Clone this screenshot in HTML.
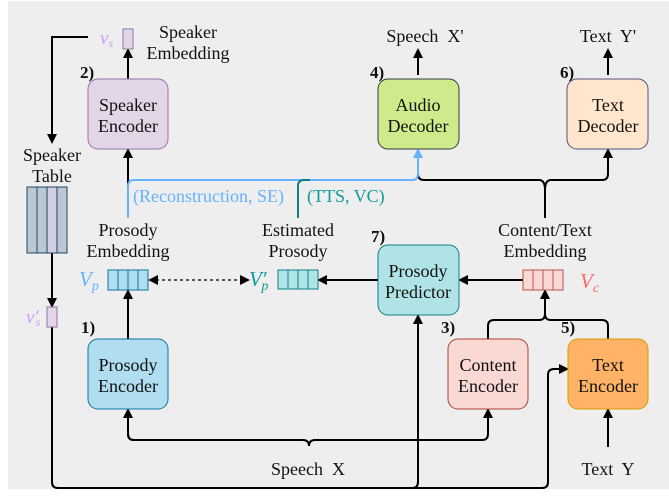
<!DOCTYPE html>
<html><head><meta charset="utf-8"><style>
html,body{margin:0;padding:0;background:#fff;}
svg{display:block;}
text{font-family:"Liberation Serif",serif;font-size:18px;fill:#111;}
.b{font-family:"Liberation Serif",serif;font-weight:bold;font-size:17px;}
.m{font-style:italic;font-size:19px;}
</style></head><body>
<svg width="669" height="499" viewBox="0 0 669 499" xmlns="http://www.w3.org/2000/svg">
<defs>
<marker id="a" markerWidth="10" markerHeight="10" refX="8" refY="5" orient="auto" markerUnits="userSpaceOnUse"><path d="M0,0 L10,5 L0,10 z" fill="#000"/></marker>
<marker id="ab" markerWidth="10" markerHeight="10" refX="8" refY="5" orient="auto" markerUnits="userSpaceOnUse"><path d="M0,0 L10,5 L0,10 z" fill="#66b2ff"/></marker>
<marker id="as" markerWidth="10" markerHeight="10" refX="8" refY="5" orient="auto-start-reverse" markerUnits="userSpaceOnUse"><path d="M0,0 L10,5 L0,10 z" fill="#000"/></marker>
</defs>
<rect x="8" y="1" width="661" height="488" fill="#eeeeee"/>
<g fill="none" stroke="#000" stroke-width="2">
<path d="M88,37 H52 V142" marker-end="url(#a)"/>
<path d="M52,253 V306" marker-end="url(#a)"/>
<path d="M52,327 V482 Q52,488 58,488 H412 Q418,488 418,482 V316" marker-end="url(#a)"/>
<path d="M412,488 H542 Q548,488 548,482 V375 Q548,369 554,369 H567" marker-end="url(#a)"/>
<path d="M128,79 V50" marker-end="url(#a)"/>
<path d="M128,218 V150" marker-end="url(#a)"/>
<path d="M418,75 V50" marker-end="url(#a)"/>
<path d="M608,75 V50" marker-end="url(#a)"/>
<path d="M128,339 V291" marker-end="url(#a)"/>
<path d="M128,434 Q128,440 134,440 H303 Q309,440 309,446 Q309,440 315,440 H482 Q488,440 488,434 V410" marker-end="url(#a)"/>
<path d="M134,440 Q128,440 128,434 V410" marker-end="url(#a)"/>
<path d="M608,447 V410" marker-end="url(#a)"/>
<path d="M488,339 V326 Q488,320 494,320 H539 Q545,320 545,314 Q545,320 551,320 H602 Q608,320 608,326 V339"/>
<path d="M545,314 V291" marker-end="url(#a)"/>
<path d="M523,280 H460" marker-end="url(#a)"/>
<path d="M378,280 H319" marker-end="url(#a)"/>
<path d="M150,280 H248" stroke-width="1.2" stroke-dasharray="3,3" marker-start="url(#as)" marker-end="url(#as)"/>
<path d="M545,218 V190 Q545,180 539,180 H424 Q418,180 418,174 V160"/>
<path d="M545,190 Q545,180 551,180 H602 Q608,180 608,174 V150" marker-end="url(#a)"/>
</g>
<path d="M128,218 V186 Q128,180 134,180 H412 Q418,180 418,174 V150" fill="none" stroke="#66b2ff" stroke-width="2" marker-end="url(#ab)"/>
<path d="M298,218 V186 Q298,180 304,180 H310" fill="none" stroke="#0e8088" stroke-width="2"/>
<rect x="88" y="79" width="80" height="70" rx="10" fill="#e1d5e7" stroke="#9673a6"/>
<rect x="378" y="79" width="81" height="70" rx="10" fill="#cdeb8b" stroke="#36393d"/>
<rect x="567" y="79" width="81" height="70" rx="10" fill="#ffe6cc" stroke="#56517e"/>
<rect x="88" y="339" width="80" height="70" rx="10" fill="#b1ddf0" stroke="#10739e"/>
<rect x="378" y="245" width="81" height="70" rx="10" fill="#b0e3e6" stroke="#0e8088"/>
<rect x="448" y="339" width="80" height="70" rx="10" fill="#fad9d5" stroke="#ae4132"/>
<rect x="568" y="339" width="80" height="70" rx="10" fill="#ffb366" stroke="#d79b00"/>
<rect x="123" y="29" width="10" height="20" fill="#e1d5e7" stroke="#9673a6"/>
<rect x="47" y="307" width="10" height="20" fill="#e1d5e7" stroke="#9673a6"/>
<g stroke="#23445d" stroke-width="1">
<rect x="27" y="187" width="10" height="66" fill="#bac8d3"/><rect x="37" y="187" width="10" height="66" fill="#bac8d3"/>
<rect x="47" y="187" width="10" height="66" fill="#d0cee2"/><rect x="57" y="187" width="10" height="66" fill="#bac8d3"/>
</g>
<g stroke="#10739e" fill="#b1ddf0"><rect x="108" y="270" width="10" height="20"/><rect x="118" y="270" width="10" height="20"/><rect x="128" y="270" width="10" height="20"/><rect x="138" y="270" width="10" height="20"/></g>
<g stroke="#0e8088" fill="#b0e3e6"><rect x="278" y="270" width="10" height="19"/><rect x="288" y="270" width="10" height="19"/><rect x="298" y="270" width="10" height="19"/><rect x="308" y="270" width="10" height="19"/></g>
<g stroke="#b85450" fill="#fad9d5"><rect x="523" y="270" width="10" height="20"/><rect x="533" y="270" width="10" height="20"/><rect x="543" y="270" width="10" height="20"/><rect x="553" y="270" width="10" height="20"/></g>
<g text-anchor="middle">
<text x="128" y="111">Speaker</text><text x="128" y="132">Encoder</text>
<text x="418" y="111">Audio</text><text x="418" y="132">Decoder</text>
<text x="608" y="111">Text</text><text x="608" y="132">Decoder</text>
<text x="128" y="371">Prosody</text><text x="128" y="392">Encoder</text>
<text x="418" y="277">Prosody</text><text x="418" y="298">Predictor</text>
<text x="488" y="371">Content</text><text x="488" y="392">Encoder</text>
<text x="608" y="371">Text</text><text x="608" y="392">Encoder</text>
<text x="188" y="38">Speaker</text><text x="188" y="59">Embedding</text>
<text x="52" y="161">Speaker</text><text x="52" y="182">Table</text>
<text x="128" y="236">Prosody</text><text x="128" y="257">Embedding</text>
<text x="298" y="236">Estimated</text><text x="298" y="257">Prosody</text>
<text x="545" y="236">Content/Text</text><text x="545" y="257">Embedding</text>
<text x="425" y="42" xml:space="preserve">Speech  X'</text>
<text x="608" y="42" xml:space="preserve">Text  Y'</text>
<text x="308" y="475" xml:space="preserve">Speech  X</text>
<text x="608" y="475" xml:space="preserve">Text  Y</text>
</g>
<text x="133" y="202" style="fill:#66b2ff">(Reconstruction, SE)</text>
<text x="307" y="202" style="fill:#0e9a9a">(TTS, VC)</text>
<text class="b" x="80" y="78">2)</text><text class="b" x="370" y="78">4)</text><text class="b" x="560" y="78">6)</text>
<text class="b" x="81" y="333">1)</text><text class="b" x="371" y="242">7)</text>
<text class="b" x="441" y="333">3)</text><text class="b" x="561" y="333">5)</text>
<text class="m" x="100" y="44" style="fill:#cc99ff">v<tspan font-size="12" dy="3">s</tspan></text>
<text class="m" x="26" y="323" style="fill:#cc99ff">v′<tspan font-size="12" dx="-3" dy="3">s</tspan></text>
<text class="m" x="79" y="286" style="fill:#66b2ff;font-size:21px">V<tspan font-size="14" dy="4">p</tspan></text>
<text class="m" x="249" y="286" style="fill:#0e9a9a;font-size:21px">V′<tspan font-size="14" dx="-5" dy="4">p</tspan></text>
<text class="m" x="580" y="288" style="fill:#ff6666;font-size:21px">V<tspan font-size="14" dy="4">c</tspan></text>
</svg>
</body></html>
